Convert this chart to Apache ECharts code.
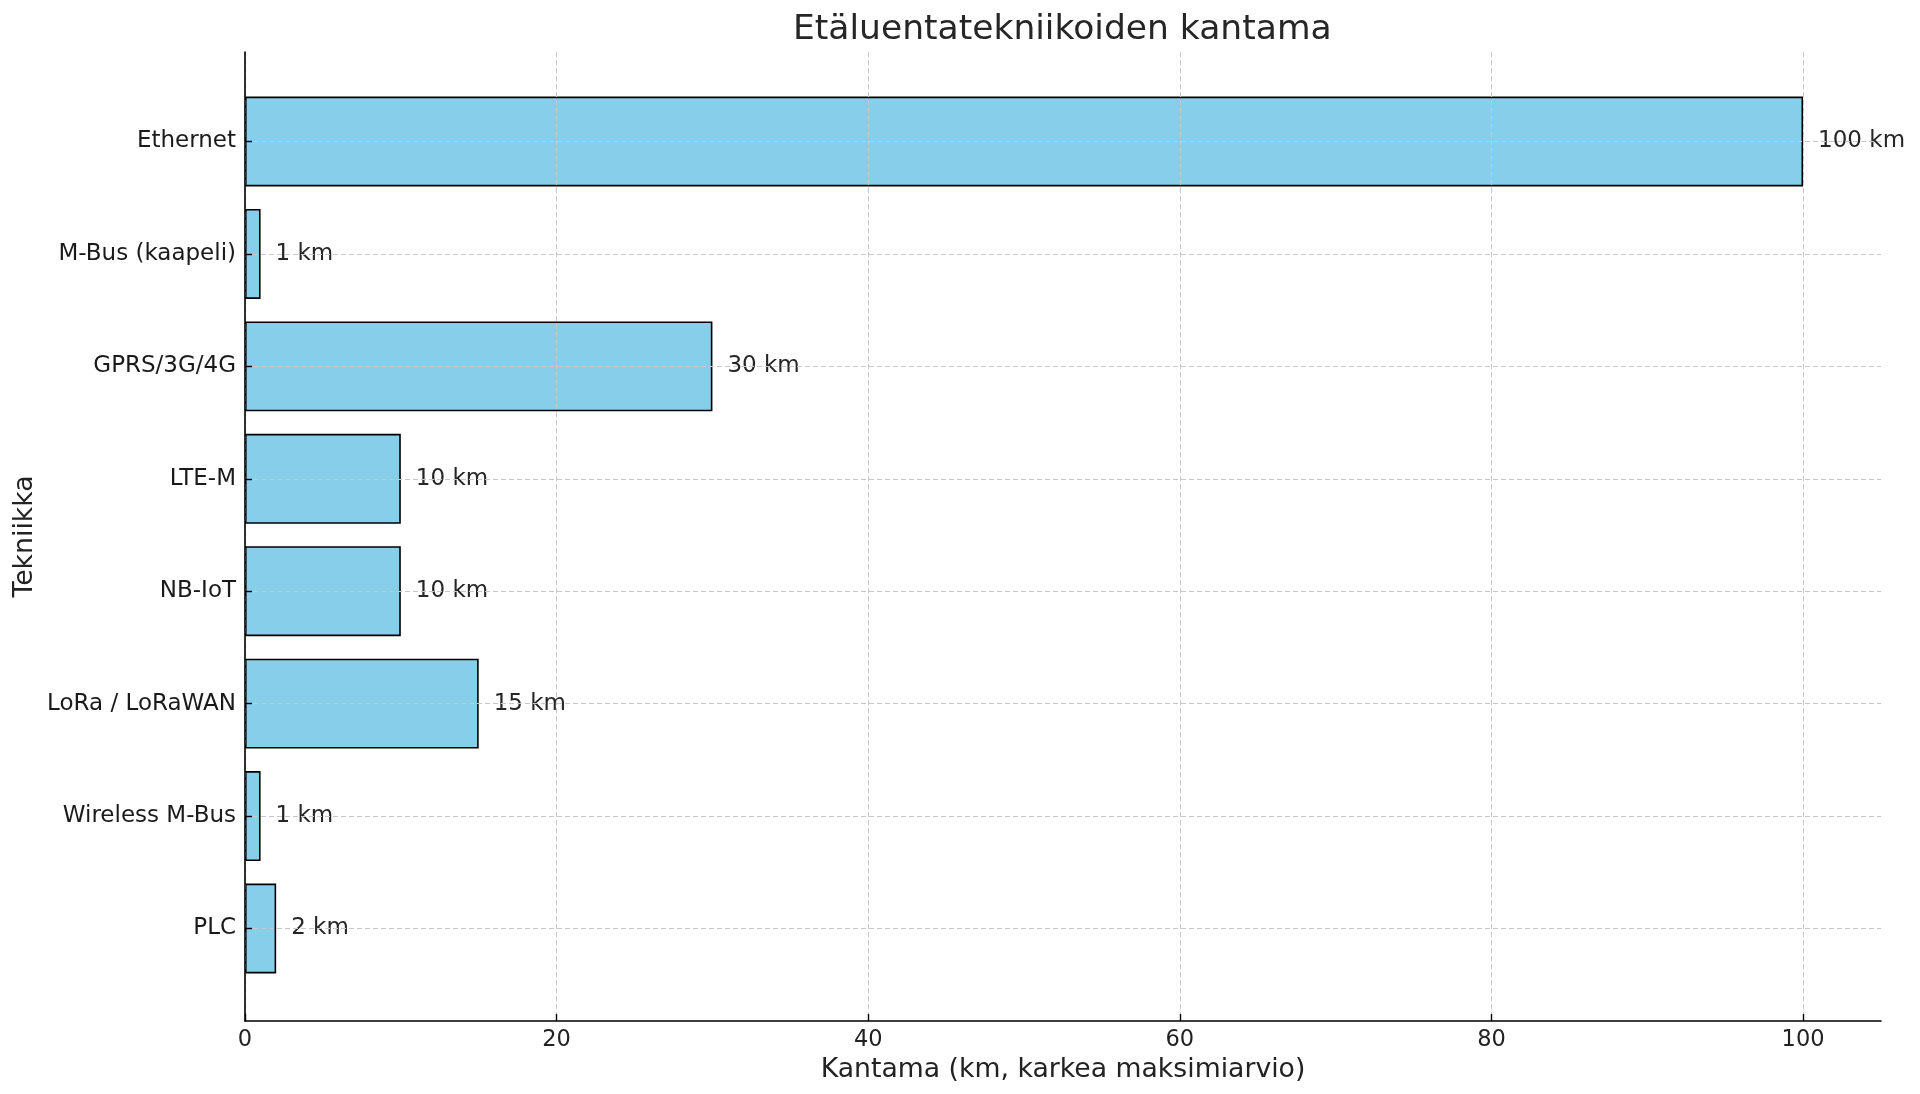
<!DOCTYPE html>
<html>
<head>
<meta charset="utf-8">
<script src="https://cdn.jsdelivr.net/npm/echarts@6/dist/echarts.min.js"></script>
<style>html,body{margin:0;padding:0;background:#fff;}#c{width:1920px;height:1094px;}</style>
</head>
<body>
<div id="c"></div>
<script>
// bottom-to-top order
const categories = ['PLC', 'Wireless M-Bus', 'LoRa / LoRaWAN', 'NB-IoT', 'LTE-M', 'GPRS/3G/4G', 'M-Bus (kaapeli)', 'Ethernet'];
const rangeKm = [2, 1, 15, 10, 10, 30, 1, 100];
const xTicks = [0, 20, 40, 60, 80, 100];

const FONT = 'DejaVu Sans';
const chart = echarts.init(document.getElementById('c'));
const gridLine = { show: true, lineStyle: { color: '#c8c8c8', width: 1, type: [5, 3] } };

chart.setOption({
  animation: false,
  backgroundColor: '#fff',
  title: {
    text: 'Etäluentatekniikoiden kantama',
    left: 793, top: 13, padding: 0,
    textStyle: { fontFamily: FONT, fontSize: 34.5, fontWeight: 'normal', color: '#262626' }
  },
  grid: [
    { left: 245, right: 39, top: 141.5, height: 787, containLabel: false },
    { left: 245, right: 39, top: 52, bottom: 73, containLabel: false }
  ],
  xAxis: [
    { gridIndex: 0, type: 'value', min: 0, max: 105, show: false },
    {
      gridIndex: 1, type: 'value', min: 0, max: 105, interval: 20,
      axisLine: { show: true, onZero: false, lineStyle: { color: '#000', width: 1.6 } },
      axisTick: { show: true, inside: true, length: 7, lineStyle: { color: '#000', width: 1.4 },
        customValues: xTicks },
      axisLabel: { fontFamily: FONT, fontSize: 22.5, color: '#222', margin: 8,
        customValues: xTicks },
      splitLine: gridLine,
      name: 'Kantama (km, karkea maksimiarvio)',
      nameLocation: 'middle', nameGap: 31,
      nameTextStyle: { fontFamily: FONT, fontSize: 26.7, color: '#222' }
    }
  ],
  yAxis: [
    {
      gridIndex: 0, type: 'category', data: categories, boundaryGap: false,
      axisLine: { show: false },
      axisTick: { show: true, inside: true, length: 7, lineStyle: { color: '#000', width: 1.4 } },
      axisLabel: { fontFamily: FONT, fontSize: 23, color: '#1a1a1a', margin: 9, interval: 0 },
      splitLine: Object.assign({ interval: 0 }, gridLine)
    },
    {
      gridIndex: 1, type: 'value', min: 0, max: 1,
      axisLine: { show: true, lineStyle: { color: '#000', width: 1.6 } },
      axisTick: { show: false }, axisLabel: { show: false }, splitLine: { show: false },
      name: 'Tekniikka', nameLocation: 'middle', nameGap: 206, nameRotate: 90,
      nameTextStyle: { fontFamily: FONT, fontSize: 26.7, color: '#222' }
    }
  ],
  series: [{
    type: 'bar', xAxisIndex: 0, yAxisIndex: 0,
    data: rangeKm, z: -1, clip: false,
    barWidth: '80%',
    itemStyle: { color: '#87CEEB', borderColor: '#000', borderWidth: 1.6 },
    label: {
      show: true, position: 'right', distance: 15,
      formatter: p => p.value + ' km',
      fontFamily: FONT, fontSize: 23, color: '#262626'
    }
  }]
});
</script>
</body>
</html>
